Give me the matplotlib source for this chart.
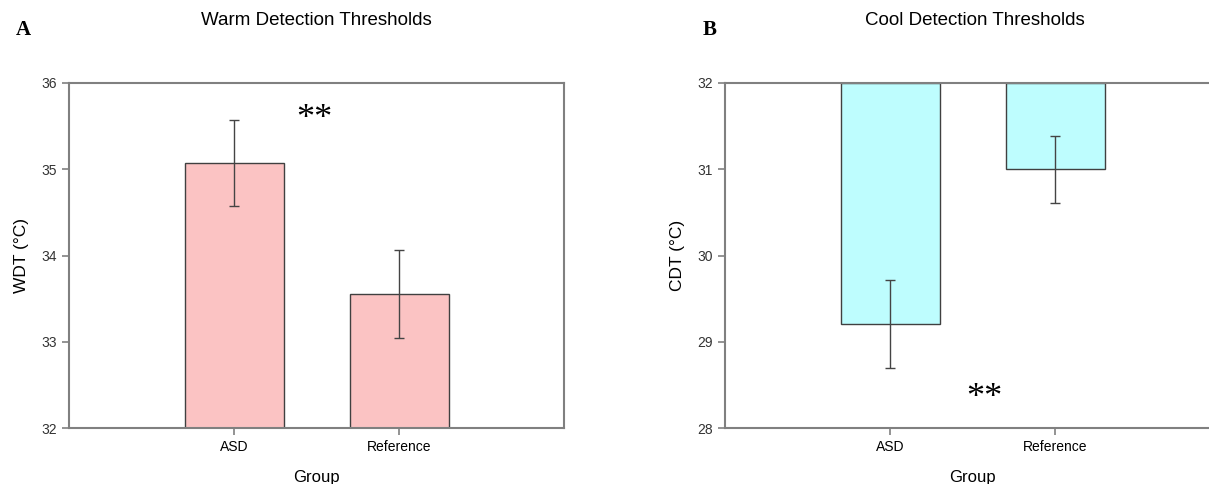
import numpy as np
import matplotlib.pyplot as plt

plt.rcParams['font.family'] = ['Liberation Sans', 'DejaVu Sans']

groups = ['ASD', 'Reference']
wdt_mean = [35.07, 33.55]
wdt_err = [0.50, 0.51]
cdt_mean = [29.21, 31.00]
cdt_err = [0.51, 0.39]

spine_col = '#808080'
edge_col = '#404040'

fig = plt.figure(figsize=(12.09, 4.84), dpi=100)
ax1 = fig.add_axes([69/1209, 56/484, 495/1209, 345/484])
ax2 = fig.add_axes([725/1209, 56/484, 495/1209, 345/484])

x = np.arange(len(groups))

def style(ax, ylim, ylabel, title):
    ax.set_xlim(-1, 2)
    ax.set_ylim(*ylim)
    ax.set_xticks(x)
    ax.set_xticklabels(groups, fontsize=10)
    ax.set_yticks(np.arange(ylim[0], ylim[1] + 1))
    ax.tick_params(axis='y', labelsize=10, colors='#333333')
    ax.tick_params(axis='both', color=spine_col, length=5, width=1.2)
    for s in ax.spines.values():
        s.set_color(spine_col)
        s.set_linewidth(1.5)
    ax.set_xlabel('Group', fontsize=12, labelpad=12)
    ax.set_ylabel(ylabel, fontsize=12.5, labelpad=9)
    ax.set_title(title, fontsize=13.5, pad=42)

# A: warm
ax1.bar(x, np.array(wdt_mean) - 32, bottom=32, width=0.6,
        color='#fbc3c3', edgecolor=edge_col, linewidth=1)
ax1.errorbar(x, wdt_mean, yerr=wdt_err, fmt='none', ecolor='#444444',
             elinewidth=1, capsize=3.5, capthick=1)
style(ax1, (32, 36), 'WDT (°C)', 'Warm Detection Thresholds')
ax1.text(0.49, 35.58, '**', fontsize=26, family='Liberation Serif',
         ha='center', va='center')

# B: cool
ax2.bar(x, np.array(cdt_mean) - 32, bottom=32, width=0.6,
        color='#befdfe', edgecolor=edge_col, linewidth=1)
ax2.errorbar(x, cdt_mean, yerr=cdt_err, fmt='none', ecolor='#444444',
             elinewidth=1, capsize=3.5, capthick=1)
style(ax2, (28, 32), 'CDT (°C)', 'Cool Detection Thresholds')
ax2.text(0.57, 28.34, '**', fontsize=26, family='Liberation Serif',
         ha='center', va='center')
ax2.title.set_position((500/990, 1))

fig.text(16/1209, 1 - 30/484, 'A', fontsize=15, fontweight='bold',
         family='Liberation Serif', va='center')
fig.text(703/1209, 1 - 30/484, 'B', fontsize=15, fontweight='bold',
         family='Liberation Serif', va='center')

fig.savefig('out.png', dpi=100)
